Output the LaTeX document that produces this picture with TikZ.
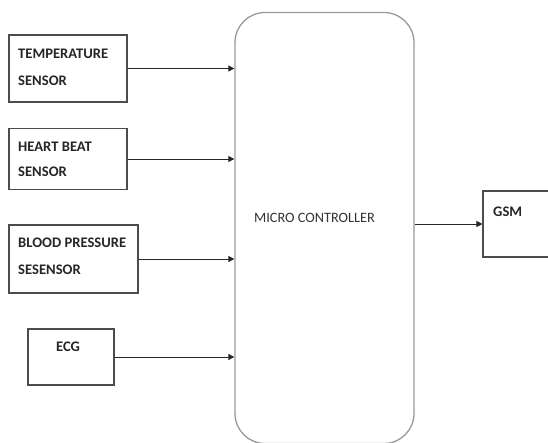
\documentclass[tikz,border=0pt]{standalone}
\usepackage{fontspec}
\setmainfont{Carlito}
\usetikzlibrary{arrows.meta}
\begin{document}
\begin{tikzpicture}[x=1pt,y=-1pt,
  box/.style={draw=black!70,line width=1.1pt,inner sep=0pt},
  lbl/.style={font=\fontsize{14.6}{15}\selectfont\bfseries,text=black!85,inner sep=0pt,anchor=west},
  mclbl/.style={font=\fontsize{14.3}{15}\selectfont,text=black!80,inner sep=0pt},
  arr/.style={draw=black!85,line width=0.8pt,-{Triangle[length=6pt,width=6pt]}}]
\useasboundingbox (0,0) rectangle (548,443);
\begin{scope}
\clip (0,0) rectangle (548,443);
% micro controller
\node[draw=black!40,line width=1.3pt,rounded corners=30pt,inner sep=0pt,
  minimum width=179pt,minimum height=431pt] (mc) at (324.5,228) {};
\node[mclbl] (mct) at (314.5,218) {MICRO CONTROLLER};
% sensors
\node[box,minimum width=118pt,minimum height=67pt] (temp) at (68,68.5) {};
\node[lbl] (tempa) at (18,54) {TEMPERATURE};
\node[lbl] (tempb) at (18,81) {SENSOR};
\node[box,minimum width=118pt,minimum height=61pt] (heart) at (68,159) {};
\node[lbl] (hearta) at (18,147) {HEART BEAT};
\node[lbl] (heartb) at (18,172) {SENSOR};
\node[box,minimum width=129pt,minimum height=68pt] (bp) at (73.5,259) {};
\node[lbl] (bpa) at (18,243) {BLOOD PRESSURE};
\node[lbl] (bpb) at (18,270) {SESENSOR};
\node[box,minimum width=86pt,minimum height=56pt] (ecg) at (71,357) {};
\node[lbl,anchor=center] (ecgt) at (68,347) {ECG};
% gsm
\node[box,minimum width=70pt,minimum height=66pt] (gsm) at (518,224) {};
\node[lbl] (gsmt) at (493,212) {GSM};
% connectors
\draw[arr] (temp.east) -- (mc.west |- temp.east);
\draw[arr] (heart.east) -- (mc.west |- heart.east);
\draw[arr] (bp.east) -- (mc.west |- bp.east);
\draw[arr] (ecg.east) -- (mc.west |- ecg.east);
\draw[arr] (mc.east |- gsm.west) -- (gsm.west);
\end{scope}
\end{tikzpicture}
\end{document}
